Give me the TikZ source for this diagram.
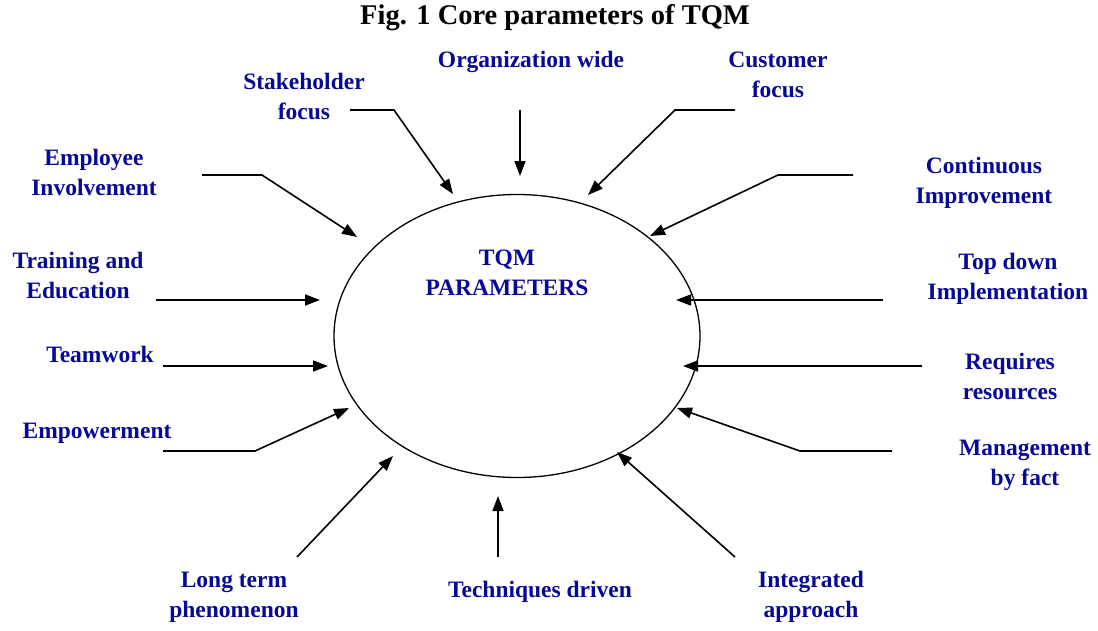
\documentclass[tikz,border=0pt]{standalone}
\usepackage{fontspec}
\setmainfont{Liberation Serif}
\usetikzlibrary{shapes.geometric,arrows.meta}
\definecolor{lblblue}{RGB}{8,8,150}
\tikzset{
  lbl/.style={text=lblblue,font=\bfseries\fontsize{23.5}{30}\selectfont,align=center,inner sep=0pt},
  conn/.style={line width=1.6pt,-{Triangle[length=15pt,width=11pt]},line join=miter},
}
\begin{document}
\begin{tikzpicture}[x=1pt,y=-1pt]
\useasboundingbox (0,0) rectangle (1098,630);
\node[font=\bfseries\fontsize{28.5}{32}\selectfont,inner sep=0pt] (title) at (555,18) {Fig. 1 Core parameters of TQM};
\node[draw,ellipse,line width=1.3pt,minimum width=366pt,minimum height=283pt,inner sep=0pt] (tqm) at (517,336) {};
\node[lbl] (tqmtxt) at (507,273) {TQM\\PARAMETERS};
% labels
\node[lbl] (stake) at (304,96) {Stakeholder\\focus};
\node[lbl] (org) at (531,62) {Organization wide};
\node[lbl] (cust) at (778,75) {Customer\\focus};
\node[lbl] (emp) at (94,172) {Employee\\Involvement};
\node[lbl] (cont) at (984,183) {Continuous\\Improvement};
\node[lbl] (train) at (78,275) {Training and\\Education};
\node[lbl] (top) at (1008,279) {Top down\\Implementation};
\node[lbl] (team) at (100,354) {Teamwork};
\node[lbl] (req) at (1010,376) {Requires\\resources};
\node[lbl] (empw) at (97,433) {Empowerment};
\node[lbl] (mgmt) at (1025,465) {Management\\by fact};
\node[lbl] (long) at (234,597) {Long term\\phenomenon};
\node[lbl] (tech) at (540,592) {Techniques driven};
\node[lbl] (integ) at (811,597) {Integrated\\approach};
% connector points
\coordinate (s1) at (350,110); \coordinate (s2) at (394,110); \coordinate (s3) at (453,194);
\coordinate (o1) at (520,110); \coordinate (o3) at (520,176);
\coordinate (c1) at (735,110); \coordinate (c2) at (675,110); \coordinate (c3) at (588,195);
\coordinate (n1) at (853,175); \coordinate (n2) at (778,175); \coordinate (n3) at (650,236);
\coordinate (e1) at (202,175); \coordinate (e2) at (262,175); \coordinate (e3) at (357,237);
\coordinate (t1) at (156,300); \coordinate (t3) at (320,300);
\coordinate (w1) at (163,366); \coordinate (w3) at (328,366);
\coordinate (p1) at (163,451); \coordinate (p2) at (255,451); \coordinate (p3) at (349,408);
\coordinate (d1) at (883,300); \coordinate (d3) at (676,300);
\coordinate (r1) at (922,366); \coordinate (r3) at (683,366);
\coordinate (m1) at (892,451); \coordinate (m2) at (800,451); \coordinate (m3) at (677,408);
\coordinate (l1) at (297,557); \coordinate (l3) at (393,456);
\coordinate (q1) at (498,557); \coordinate (q3) at (498,496);
\coordinate (i1) at (735,557); \coordinate (i3) at (617,452);
% connectors
\draw[conn] (s1) -- (s2) -- (s3);
\draw[conn] (o1) -- (o3);
\draw[conn] (c1) -- (c2) -- (c3);
\draw[conn] (n1) -- (n2) -- (n3);
\draw[conn] (e1) -- (e2) -- (e3);
\draw[conn] (t1) -- (t3);
\draw[conn] (w1) -- (w3);
\draw[conn] (p1) -- (p2) -- (p3);
\draw[conn] (d1) -- (d3);
\draw[conn] (r1) -- (r3);
\draw[conn] (m1) -- (m2) -- (m3);
\draw[conn] (l1) -- (l3);
\draw[conn] (q1) -- (q3);
\draw[conn] (i1) -- (i3);
\end{tikzpicture}
\end{document}
